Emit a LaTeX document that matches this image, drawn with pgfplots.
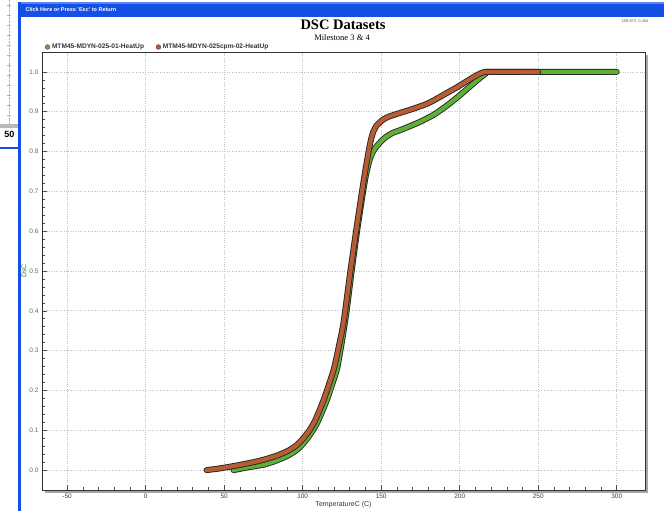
\documentclass[border=0pt]{standalone}
\usepackage{pgfplots}
\pgfplotsset{compat=1.18}
\usepackage{fontspec}
\setmainfont{Liberation Sans}
\newfontfamily\serifttl{Liberation Serif}
\definecolor{dsgreen}{RGB}{95,175,55}
\definecolor{dsbrown}{RGB}{185,92,52}
\definecolor{ticklab}{RGB}{70,130,60}
\definecolor{winblue}{RGB}{20,80,230}
\begin{document}
\begin{tikzpicture}[x=1pt,y=1pt]
\path[use as bounding box] (0,0) rectangle (664,-511);
\fill[white] (0,0) rectangle (664,-511);
% window decoration
\draw[gray!60, densely dotted] (9,0) -- (9,-125);
\foreach \yy in {5,15,...,120} {\draw[gray!60] (7,-\yy) -- (11,-\yy);}
\fill[gray!55] (0,-124) rectangle (18,-128);
\node[font=\fontsize{9}{10}\selectfont\bfseries, anchor=east] at (18,-134) {50};
\draw[winblue, line width=1.2pt] (0,-148) -- (18,-148);
\fill[winblue] (18,-2) rectangle (664,-17);
\fill[winblue!70!white] (18,-2) rectangle (664,-4);
\draw[winblue, line width=2.5pt] (19.5,-2) -- (19.5,-511);
\node[anchor=west, text=white, font=\fontsize{5.5}{6}\selectfont\bfseries] at (22,-10) {Click Here or Press 'Esc' to Return};
% titles
\node[font=\serifttl\fontsize{14.5}{15}\selectfont\bfseries] at (343,-25) {DSC Datasets};
\node[font=\serifttl\fontsize{8.5}{9}\selectfont] at (342,-38) {Milestone 3 \& 4};
\node[anchor=east, font=\fontsize{4}{5}\selectfont, text=gray!70!black] at (652,-21) {109.872, 0.404};
% shadow of axis
\fill[gray!70] (45,-493) rectangle (648,-55);
\begin{axis}[
  at={(42pt,-490pt)}, anchor=south west,
  width=603pt, height=438pt, scale only axis,
  xmin=-66, xmax=318, ymin=-0.05, ymax=1.05,
  axis background/.style={fill=white},
  axis line style={black!80, line width=0.9pt},
  xtick={-50,0,50,100,150,200,250,300},
  ytick={0,0.1,0.2,0.3,0.4,0.5,0.6,0.7,0.8,0.9,1.0},
  minor x tick num=4, minor y tick num=4,
  tick align=inside, tick pos=left,
  major tick length=5pt, minor tick length=3pt,
  tick style={black!70, line width=0.6pt},
  grid=major,
  major grid style={gray!50, dotted, line width=0.7pt},
  /pgf/number format/assume math mode=true,
  yticklabel style={text=ticklab, /pgf/number format/fixed, /pgf/number format/fixed zerofill, /pgf/number format/precision=1},
  ticklabel style={font=\fontsize{6.5}{7}\selectfont},
  xticklabel style={text=black!75},
  xlabel={TemperatureC (C)},
  xlabel style={font=\fontsize{7}{8}\selectfont, text=black!80, yshift=4pt},
  ylabel={DsC},
  ylabel style={font=\fontsize{7}{8}\selectfont, text=ticklab, yshift=-4pt},
  legend columns=2,
  legend style={at={(0pt,443pt)}, anchor=west, draw=none, fill=none,
    font=\fontsize{6.6}{7}\selectfont\bfseries, text=black!80,
    /tikz/every even column/.append style={column sep=10pt}},
  legend cell align=left,
]
\addlegendimage{only marks, mark=*, mark size=2.4pt, mark options={fill=dsgreen, draw=black!70}}
\addlegendentry{MTM45-MDYN-025-01-HeatUp}
\addlegendimage{only marks, mark=*, mark size=2.4pt, mark options={fill=dsbrown, draw=black!70}}
\addlegendentry{MTM45-MDYN-025cpm-02-HeatUp}
% green series
\addplot[forget plot, black!85, line width=6pt, line cap=round, line join=round, smooth, tension=0.3] coordinates {
(56,0.0) (60,0.003) (65,0.007) (70,0.01) (75.7,0.014) (82,0.022) (90.5,0.036) (96,0.05) (100,0.065) (104,0.085) (108.4,0.112) (112,0.143) (115.8,0.18) (119,0.218) (122,0.256) (125.3,0.33) (128,0.4) (131.2,0.5) (135,0.61) (138.5,0.7) (140.5,0.745) (142.7,0.78) (144.5,0.798) (146.9,0.812) (150,0.826) (153.2,0.837) (157.4,0.847) (161.6,0.853) (166,0.86) (170.3,0.867) (176,0.877) (183.3,0.892) (190,0.91) (195,0.925) (200.6,0.943) (207,0.965) (213.6,0.987) (217,0.997) (219,1.0) (300,1.0)};
\addplot[forget plot, dsgreen, line width=4.2pt, line cap=round, line join=round, smooth, tension=0.3] coordinates {
(56,0.0) (60,0.003) (65,0.007) (70,0.01) (75.7,0.014) (82,0.022) (90.5,0.036) (96,0.05) (100,0.065) (104,0.085) (108.4,0.112) (112,0.143) (115.8,0.18) (119,0.218) (122,0.256) (125.3,0.33) (128,0.4) (131.2,0.5) (135,0.61) (138.5,0.7) (140.5,0.745) (142.7,0.78) (144.5,0.798) (146.9,0.812) (150,0.826) (153.2,0.837) (157.4,0.847) (161.6,0.853) (166,0.86) (170.3,0.867) (176,0.877) (183.3,0.892) (190,0.91) (195,0.925) (200.6,0.943) (207,0.965) (213.6,0.987) (217,0.997) (219,1.0) (300,1.0)};
% brown series
\addplot[forget plot, black!85, line width=6pt, line cap=round, line join=round, smooth, tension=0.3] coordinates {
(38.8,0.0) (45,0.003) (50,0.006) (60,0.013) (70,0.021) (76,0.027) (84,0.037) (90.5,0.048) (96,0.062) (100,0.078) (104,0.098) (107.4,0.12) (110.5,0.148) (113.7,0.18) (117,0.218) (120,0.256) (123,0.31) (126,0.37) (130.4,0.5) (134,0.6) (137.8,0.7) (140,0.755) (142,0.8) (143.5,0.83) (145,0.85) (147,0.865) (149,0.873) (151.5,0.881) (155,0.888) (162,0.897) (170,0.907) (178,0.918) (183.3,0.928) (190,0.943) (198.5,0.962) (205,0.978) (211.5,0.993) (215,0.999) (217,1.0) (250,1.0)};
\addplot[forget plot, dsbrown, line width=4.2pt, line cap=round, line join=round, smooth, tension=0.3] coordinates {
(38.8,0.0) (45,0.003) (50,0.006) (60,0.013) (70,0.021) (76,0.027) (84,0.037) (90.5,0.048) (96,0.062) (100,0.078) (104,0.098) (107.4,0.12) (110.5,0.148) (113.7,0.18) (117,0.218) (120,0.256) (123,0.31) (126,0.37) (130.4,0.5) (134,0.6) (137.8,0.7) (140,0.755) (142,0.8) (143.5,0.83) (145,0.85) (147,0.865) (149,0.873) (151.5,0.881) (155,0.888) (162,0.897) (170,0.907) (178,0.918) (183.3,0.928) (190,0.943) (198.5,0.962) (205,0.978) (211.5,0.993) (215,0.999) (217,1.0) (250,1.0)};
\end{axis}
\end{tikzpicture}
\end{document}
